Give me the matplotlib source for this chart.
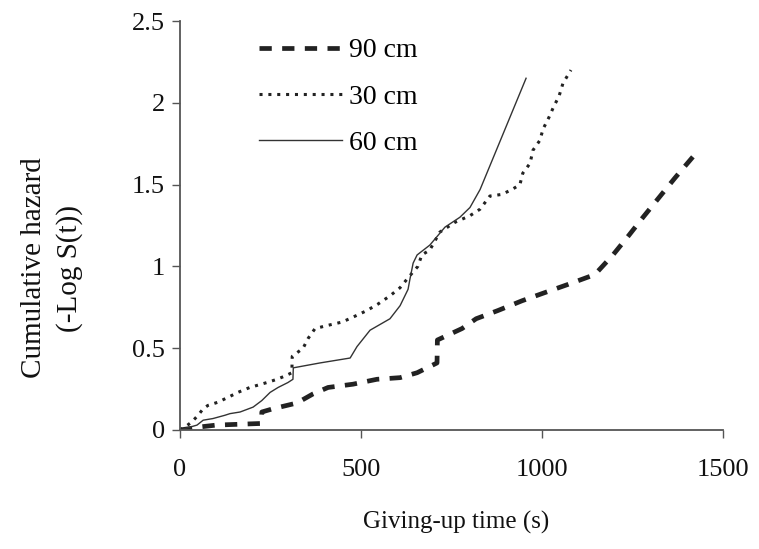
import numpy as np
import matplotlib.pyplot as plt

# giving-up time (s) and cumulative hazard
t_90 = [0, 60, 100, 225, 226, 257, 323, 367, 409, 478, 544, 608, 655, 710, 711,
        779, 818, 878, 945, 1008, 1072, 1146, 1196, 1240, 1279, 1323, 1367, 1417]
h_90 = [0, 0.02, 0.03, 0.04, 0.11, 0.13, 0.165, 0.22, 0.26, 0.28, 0.31, 0.32, 0.35, 0.41, 0.55,
        0.62, 0.68, 0.73, 0.79, 0.84, 0.89, 0.95, 1.07, 1.19, 1.30, 1.42, 1.54, 1.67]

t_30 = [0, 15, 33, 50, 64, 77, 105, 133, 160, 193, 240, 268, 290, 309, 310, 340, 354, 373,
        409, 448, 478, 516, 547, 580, 608, 630, 657, 668, 690, 718, 760, 801, 829,
        856, 889, 917, 939, 947, 967, 975, 994, 1003, 1019, 1033, 1047, 1058, 1080]
h_30 = [0, 0.02, 0.05, 0.09, 0.13, 0.15, 0.17, 0.20, 0.23, 0.26, 0.29, 0.31, 0.33, 0.35, 0.45, 0.50, 0.56, 0.62,
        0.64, 0.66, 0.69, 0.73, 0.77, 0.82, 0.87, 0.93, 1.00, 1.07, 1.10, 1.21, 1.27, 1.31, 1.35,
        1.43, 1.44, 1.47, 1.50, 1.57, 1.63, 1.71, 1.77, 1.84, 1.91, 1.98, 2.04, 2.12, 2.20]

t_60 = [0, 47, 64, 91, 124, 138, 166, 202, 226, 249, 271, 298, 312, 313, 387, 470, 489,
        525, 580, 608, 630, 635, 644, 655, 690, 732, 773, 801, 829, 956]
h_60 = [0, 0.03, 0.06, 0.07, 0.09, 0.10, 0.11, 0.14, 0.18, 0.23, 0.26, 0.29, 0.31, 0.38, 0.41, 0.44, 0.51,
        0.61, 0.68, 0.76, 0.86, 0.92, 1.02, 1.07, 1.13, 1.24, 1.30, 1.36, 1.47, 2.15]

x_ticks = [0, 500, 1000, 1500]
y_ticks = [0, 0.5, 1, 1.5, 2, 2.5]
y_tick_labels = ['0', '0.5', '1', '1.5', '2', '2.5']

plt.rcParams['font.family'] = ['Liberation Serif', 'DejaVu Serif']

fig = plt.figure(figsize=(7.59, 5.49), dpi=100)
ax = fig.add_axes([180 / 759, 1 - 430 / 549, 543 / 759, 409 / 549])

ink = '#222222'
ax.plot(t_90, h_90, color=ink, lw=3.4, dashes=(2.6, 2.2), label='90 cm')
ax.plot(t_30, h_30, color=ink, lw=2.2, dashes=(1.0, 1.9), label='30 cm')
ax.plot(t_60, h_60, color='#333333', lw=1.0, label='60 cm')

ax.set_xlim(0, 1500)
ax.set_ylim(0, 2.5)
ax.set_xticks(x_ticks)
ax.set_xticklabels([str(v) for v in x_ticks])
ax.set_yticks(y_ticks)
ax.set_yticklabels(y_tick_labels)

for s in ['top', 'right']:
    ax.spines[s].set_visible(False)
for s in ['left', 'bottom']:
    ax.spines[s].set_color('#555555')
    ax.spines[s].set_linewidth(1.3)
ax.tick_params(axis='both', direction='out', length=6, width=1, color='#555555',
               labelsize=19, labelcolor='#111111')
ax.tick_params(axis='x', pad=15)
ax.tick_params(axis='y', pad=5)

fig.text(52 / 759, 1 - 268 / 549, 'Cumulative hazard\n(-Log S(t))', rotation=90,
         ha='center', va='center', fontsize=21, linespacing=1.4, color='#111111')
fig.text(456 / 759, 1 - 522 / 549, 'Giving-up time (s)', ha='center', va='center',
         fontsize=18, color='#111111')

ax.legend(loc='upper left', bbox_to_anchor=(245 / 759, 1 - 24 / 549),
          bbox_transform=fig.transFigure, frameon=False, fontsize=20,
          handlelength=3.0, handletextpad=0.25, labelspacing=0.75, borderpad=0)

fig.savefig('out.png', dpi=100)
